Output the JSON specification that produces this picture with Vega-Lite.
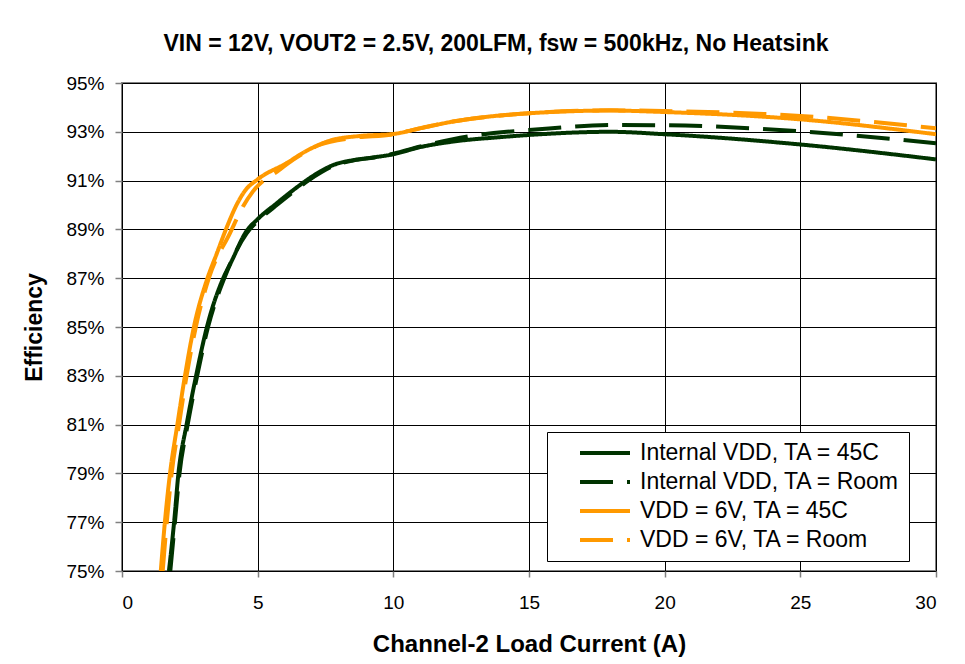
{
  "$schema": "https://vega.github.io/schema/vega-lite/v6.json",
  "autosize": "none",
  "width": 814,
  "height": 488,
  "padding": {"left": 122, "top": 83, "right": 29, "bottom": 93},
  "background": "white",
  "title": {
    "text": "VIN = 12V, VOUT2 = 2.5V, 200LFM, fsw = 500kHz, No Heatsink",
    "font": "Liberation Sans",
    "fontSize": 23,
    "fontWeight": "bold",
    "color": "black",
    "anchor": "middle",
    "dx": -33,
    "offset": 18
  },
  "data": {
    "values": [
      {"s": "Internal VDD, TA = 45C", "x": 1.73, "y": 0.75},
      {"s": "Internal VDD, TA = 45C", "x": 1.92, "y": 0.77},
      {"s": "Internal VDD, TA = 45C", "x": 2.08, "y": 0.79},
      {"s": "Internal VDD, TA = 45C", "x": 2.38, "y": 0.81},
      {"s": "Internal VDD, TA = 45C", "x": 2.73, "y": 0.83},
      {"s": "Internal VDD, TA = 45C", "x": 3.13, "y": 0.85},
      {"s": "Internal VDD, TA = 45C", "x": 3.73, "y": 0.87},
      {"s": "Internal VDD, TA = 45C", "x": 4.04, "y": 0.877},
      {"s": "Internal VDD, TA = 45C", "x": 4.57, "y": 0.889},
      {"s": "Internal VDD, TA = 45C", "x": 4.99, "y": 0.8941},
      {"s": "Internal VDD, TA = 45C", "x": 5.7, "y": 0.9007},
      {"s": "Internal VDD, TA = 45C", "x": 6.31, "y": 0.9061},
      {"s": "Internal VDD, TA = 45C", "x": 6.81, "y": 0.9102},
      {"s": "Internal VDD, TA = 45C", "x": 7.3, "y": 0.9137},
      {"s": "Internal VDD, TA = 45C", "x": 7.79, "y": 0.9164},
      {"s": "Internal VDD, TA = 45C", "x": 8.53, "y": 0.9184},
      {"s": "Internal VDD, TA = 45C", "x": 9.26, "y": 0.9195},
      {"s": "Internal VDD, TA = 45C", "x": 10.0, "y": 0.9208},
      {"s": "Internal VDD, TA = 45C", "x": 10.98, "y": 0.9237},
      {"s": "Internal VDD, TA = 45C", "x": 12.2, "y": 0.926},
      {"s": "Internal VDD, TA = 45C", "x": 13.93, "y": 0.9278},
      {"s": "Internal VDD, TA = 45C", "x": 15.0, "y": 0.9287},
      {"s": "Internal VDD, TA = 45C", "x": 18.0, "y": 0.93},
      {"s": "Internal VDD, TA = 45C", "x": 20.0, "y": 0.929},
      {"s": "Internal VDD, TA = 45C", "x": 25.0, "y": 0.9248},
      {"s": "Internal VDD, TA = 45C", "x": 30.0, "y": 0.9187},

      {"s": "Internal VDD, TA = Room", "x": 1.78, "y": 0.75},
      {"s": "Internal VDD, TA = Room", "x": 1.95, "y": 0.77},
      {"s": "Internal VDD, TA = Room", "x": 2.12, "y": 0.79},
      {"s": "Internal VDD, TA = Room", "x": 2.42, "y": 0.81},
      {"s": "Internal VDD, TA = Room", "x": 2.77, "y": 0.83},
      {"s": "Internal VDD, TA = Room", "x": 3.17, "y": 0.85},
      {"s": "Internal VDD, TA = Room", "x": 3.77, "y": 0.87},
      {"s": "Internal VDD, TA = Room", "x": 4.6, "y": 0.8885},
      {"s": "Internal VDD, TA = Room", "x": 5.03, "y": 0.8937},
      {"s": "Internal VDD, TA = Room", "x": 5.74, "y": 0.9003},
      {"s": "Internal VDD, TA = Room", "x": 6.35, "y": 0.9057},
      {"s": "Internal VDD, TA = Room", "x": 6.85, "y": 0.9099},
      {"s": "Internal VDD, TA = Room", "x": 7.34, "y": 0.9134},
      {"s": "Internal VDD, TA = Room", "x": 7.83, "y": 0.9162},
      {"s": "Internal VDD, TA = Room", "x": 8.55, "y": 0.9183},
      {"s": "Internal VDD, TA = Room", "x": 9.3, "y": 0.9195},
      {"s": "Internal VDD, TA = Room", "x": 10.0, "y": 0.921},
      {"s": "Internal VDD, TA = Room", "x": 11.0, "y": 0.924},
      {"s": "Internal VDD, TA = Room", "x": 12.2, "y": 0.927},
      {"s": "Internal VDD, TA = Room", "x": 14.18, "y": 0.93},
      {"s": "Internal VDD, TA = Room", "x": 15.0, "y": 0.9307},
      {"s": "Internal VDD, TA = Room", "x": 18.2, "y": 0.9328},
      {"s": "Internal VDD, TA = Room", "x": 20.0, "y": 0.9327},
      {"s": "Internal VDD, TA = Room", "x": 25.0, "y": 0.9302},
      {"s": "Internal VDD, TA = Room", "x": 30.0, "y": 0.9253},

      {"s": "VDD = 6V, TA = 45C", "x": 1.43, "y": 0.75},
      {"s": "VDD = 6V, TA = 45C", "x": 1.58, "y": 0.77},
      {"s": "VDD = 6V, TA = 45C", "x": 1.77, "y": 0.79},
      {"s": "VDD = 6V, TA = 45C", "x": 2.04, "y": 0.81},
      {"s": "VDD = 6V, TA = 45C", "x": 2.32, "y": 0.83},
      {"s": "VDD = 6V, TA = 45C", "x": 2.65, "y": 0.85},
      {"s": "VDD = 6V, TA = 45C", "x": 3.15, "y": 0.87},
      {"s": "VDD = 6V, TA = 45C", "x": 3.49, "y": 0.88},
      {"s": "VDD = 6V, TA = 45C", "x": 3.83, "y": 0.89},
      {"s": "VDD = 6V, TA = 45C", "x": 4.22, "y": 0.9},
      {"s": "VDD = 6V, TA = 45C", "x": 4.53, "y": 0.9058},
      {"s": "VDD = 6V, TA = 45C", "x": 5.0, "y": 0.9105},
      {"s": "VDD = 6V, TA = 45C", "x": 6.07, "y": 0.9172},
      {"s": "VDD = 6V, TA = 45C", "x": 6.8, "y": 0.9222},
      {"s": "VDD = 6V, TA = 45C", "x": 7.67, "y": 0.9264},
      {"s": "VDD = 6V, TA = 45C", "x": 8.77, "y": 0.9283},
      {"s": "VDD = 6V, TA = 45C", "x": 10.0, "y": 0.9291},
      {"s": "VDD = 6V, TA = 45C", "x": 10.98, "y": 0.9314},
      {"s": "VDD = 6V, TA = 45C", "x": 12.2, "y": 0.9342},
      {"s": "VDD = 6V, TA = 45C", "x": 13.93, "y": 0.9367},
      {"s": "VDD = 6V, TA = 45C", "x": 15.0, "y": 0.9376},
      {"s": "VDD = 6V, TA = 45C", "x": 18.0, "y": 0.9387},
      {"s": "VDD = 6V, TA = 45C", "x": 20.0, "y": 0.9381},
      {"s": "VDD = 6V, TA = 45C", "x": 25.0, "y": 0.9351},
      {"s": "VDD = 6V, TA = 45C", "x": 30.0, "y": 0.929},

      {"s": "VDD = 6V, TA = Room", "x": 1.5, "y": 0.75},
      {"s": "VDD = 6V, TA = Room", "x": 1.65, "y": 0.77},
      {"s": "VDD = 6V, TA = Room", "x": 1.83, "y": 0.79},
      {"s": "VDD = 6V, TA = Room", "x": 2.1, "y": 0.81},
      {"s": "VDD = 6V, TA = Room", "x": 2.38, "y": 0.83},
      {"s": "VDD = 6V, TA = Room", "x": 2.72, "y": 0.85},
      {"s": "VDD = 6V, TA = Room", "x": 3.2, "y": 0.87},
      {"s": "VDD = 6V, TA = Room", "x": 3.98, "y": 0.8885},
      {"s": "VDD = 6V, TA = Room", "x": 4.46, "y": 0.8994},
      {"s": "VDD = 6V, TA = Room", "x": 4.82, "y": 0.9055},
      {"s": "VDD = 6V, TA = Room", "x": 5.8, "y": 0.9144},
      {"s": "VDD = 6V, TA = Room", "x": 6.3, "y": 0.9185},
      {"s": "VDD = 6V, TA = Room", "x": 7.27, "y": 0.9246},
      {"s": "VDD = 6V, TA = Room", "x": 8.5, "y": 0.9275},
      {"s": "VDD = 6V, TA = Room", "x": 10.0, "y": 0.929},
      {"s": "VDD = 6V, TA = Room", "x": 11.0, "y": 0.9315},
      {"s": "VDD = 6V, TA = Room", "x": 12.2, "y": 0.9342},
      {"s": "VDD = 6V, TA = Room", "x": 14.0, "y": 0.9367},
      {"s": "VDD = 6V, TA = Room", "x": 15.0, "y": 0.9376},
      {"s": "VDD = 6V, TA = Room", "x": 18.0, "y": 0.9388},
      {"s": "VDD = 6V, TA = Room", "x": 20.0, "y": 0.9385},
      {"s": "VDD = 6V, TA = Room", "x": 25.0, "y": 0.9365},
      {"s": "VDD = 6V, TA = Room", "x": 30.0, "y": 0.9314}
    ]
  },
  "mark": {"type": "line", "strokeWidth": 4, "interpolate": "monotone", "clip": true},
  "encoding": {
    "x": {
      "field": "x",
      "type": "quantitative",
      "scale": {"domain": [0, 30], "nice": false},
      "axis": {
        "title": "Channel-2 Load Current (A)",
        "titleFontSize": 24,
        "values": [0, 5, 10, 15, 20, 25, 30],
        "tickSize": 6,
        "labelPadding": 16,
        "titlePadding": 20
      }
    },
    "y": {
      "field": "y",
      "type": "quantitative",
      "scale": {"domain": [0.75, 0.95], "nice": false, "zero": false},
      "axis": {
        "title": "Efficiency",
        "titleFontSize": 23,
        "values": [0.75, 0.77, 0.79, 0.81, 0.83, 0.85, 0.87, 0.89, 0.91, 0.93, 0.95],
        "format": ".0%",
        "tickSize": 7,
        "labelPadding": 11,
        "titlePadding": 19
      }
    },
    "color": {
      "field": "s",
      "type": "nominal",
      "scale": {
        "domain": ["Internal VDD, TA = 45C", "Internal VDD, TA = Room", "VDD = 6V, TA = 45C", "VDD = 6V, TA = Room"],
        "range": ["#003300", "#003300", "#FF9900", "#FF9900"]
      },
      "legend": {
        "title": null,
        "orient": "none",
        "legendX": 425,
        "legendY": 349,
        "symbolType": "M-2.5,0H2.5",
        "symbolSize": 400,
        "symbolStrokeWidth": 4,
        "labelFont": "Liberation Sans",
        "labelFontSize": 23,
        "labelColor": "black",
        "labelOffset": 23,
        "rowPadding": 5,
        "padding": 9,
        "symbolOffset": 37,
        "strokeColor": "black",
        "fillColor": "white",
        "labelLimit": 400
      }
    },
    "strokeDash": {
      "field": "s",
      "type": "nominal",
      "scale": {
        "domain": ["Internal VDD, TA = 45C", "Internal VDD, TA = Room", "VDD = 6V, TA = 45C", "VDD = 6V, TA = Room"],
        "range": [[1, 0], [33, 14], [1, 0], [33, 14]]
      },
      "legend": {
        "title": null,
        "orient": "none",
        "legendX": 425,
        "legendY": 349,
        "symbolType": "M-2.5,0H2.5",
        "symbolSize": 400,
        "symbolStrokeWidth": 4,
        "labelFont": "Liberation Sans",
        "labelFontSize": 23,
        "labelColor": "black",
        "labelOffset": 23,
        "rowPadding": 5,
        "padding": 9,
        "symbolOffset": 37,
        "strokeColor": "black",
        "fillColor": "white",
        "labelLimit": 400
      }
    }
  },
  "config": {
    "font": "Liberation Sans",
    "view": {"stroke": "#808080", "strokeWidth": 2},
    "axis": {
      "labelFont": "Liberation Sans",
      "labelFontSize": 19,
      "labelColor": "black",
      "titleFont": "Liberation Sans",
      "titleFontWeight": "bold",
      "titleColor": "black",
      "gridColor": "black",
      "gridOpacity": 1,
      "gridWidth": 1,
      "tickColor": "#808080",
      "tickWidth": 1.5,
      "domain": false
    }
  }
}
